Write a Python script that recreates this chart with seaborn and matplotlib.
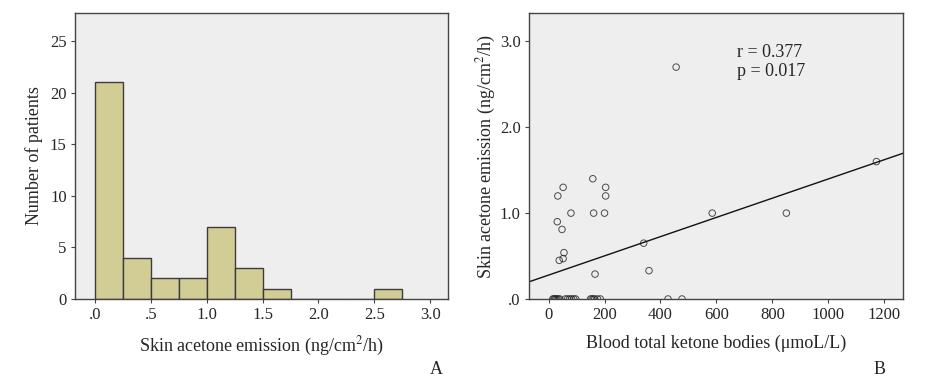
import matplotlib
matplotlib.use("Agg")
import matplotlib.pyplot as plt
from matplotlib.ticker import FuncFormatter
import numpy as np
import pandas as pd
import seaborn as sns

# Blood total ketone bodies (umol/L) and skin acetone emission (ng/cm2/h) per patient
ketone = [456, 1172, 850, 585, 340, 359, 158, 204, 204, 161,
          200, 166, 52, 33, 80, 31, 48, 55, 52, 38,
          427, 477, 15, 19, 22, 26, 30, 35, 40,
          60, 68, 75, 82, 90, 97,
          150, 155, 160, 165, 175, 185]
acetone = [2.70, 1.60, 1.00, 1.00, 0.65, 0.33, 1.40, 1.30, 1.20, 1.00,
           1.00, 0.29, 1.30, 1.20, 1.00, 0.90, 0.81, 0.54, 0.47, 0.45,
           0, 0, 0, 0, 0, 0, 0, 0, 0,
           0, 0, 0, 0, 0, 0,
           0, 0, 0, 0, 0, 0]
stats_text = "r = 0.377\np = 0.017"

hist_ticks = [0.0, 0.5, 1.0, 1.5, 2.0, 2.5, 3.0]
ket_ticks = [0, 200, 400, 600, 800, 1000, 1200]

df = pd.DataFrame({"ketone": ketone, "acetone": acetone})

sns.set_style("ticks")
plt.rcParams["font.family"] = ["Liberation Serif", "DejaVu Serif"]
plt.rcParams["mathtext.fontset"] = "stix"

bg = "#EEEEEE"
spine_col = "#444444"

def spss_fmt(v, pos):
    s = f"{v:.1f}"
    return s[1:] if s.startswith("0") else s

fig = plt.figure(figsize=(9.32, 3.86), dpi=100)
ax1 = fig.add_axes([75 / 932, 1 - 299 / 386, 373 / 932, 286 / 386])
ax2 = fig.add_axes([529 / 932, 1 - 299 / 386, 374 / 932, 286 / 386])

# A: histogram
sns.histplot(data=df, x="acetone", binwidth=0.25, binrange=(0, 2.75),
             color="#D2CD95", alpha=1, edgecolor="#3c3c3c", linewidth=1.0, ax=ax1)
ax1.set_xlim(-0.18, 3.16)
ax1.set_ylim(0, 27.7)
ax1.set_xticks(hist_ticks)
ax1.xaxis.set_major_formatter(FuncFormatter(spss_fmt))
ax1.set_yticks([0, 5, 10, 15, 20, 25])
ax1.set_xlabel("Skin acetone emission (ng/cm$^2$/h)", fontsize=13, labelpad=8)
ax1.set_ylabel("Number of patients", fontsize=13, labelpad=5)
fig.text(436 / 932, 1 - 369 / 386, "A", fontsize=13, ha="center", va="center")

# B: scatter with fit line (xlim set first so the line spans the whole axes)
ax2.set_xlim(-70, 1267)
sns.regplot(data=df, x="ketone", y="acetone", ci=None, truncate=False, ax=ax2,
            scatter_kws=dict(s=22, facecolors="none", edgecolors="#222222", linewidths=0.7),
            line_kws=dict(color="#111111", linewidth=1.0))
ax2.set_xlim(-70, 1267)
ax2.set_ylim(0, 3.33)
ax2.set_xticks(ket_ticks)
ax2.set_yticks([0, 1, 2, 3])
ax2.yaxis.set_major_formatter(FuncFormatter(spss_fmt))
ax2.set_xlabel("Blood total ketone bodies (\u03bcmoL/L)", fontsize=13, labelpad=8)
ax2.set_ylabel("Skin acetone emission (ng/cm$^2$/h)", fontsize=13, labelpad=1)
ax2.text(0.555, 0.89, stats_text, transform=ax2.transAxes, fontsize=13,
         ha="left", va="top", linespacing=1.1)
fig.text(880 / 932, 1 - 369 / 386, "B", fontsize=13, ha="center", va="center")

for ax in (ax1, ax2):
    ax.set_facecolor(bg)
    for sp in ax.spines.values():
        sp.set_visible(True)
        sp.set_color(spine_col)
        sp.set_linewidth(1.0)
    ax.tick_params(axis="both", length=3, width=0.8, color=spine_col,
                   labelsize=12, pad=3)

fig.savefig("out.png", dpi=100, facecolor="white")
